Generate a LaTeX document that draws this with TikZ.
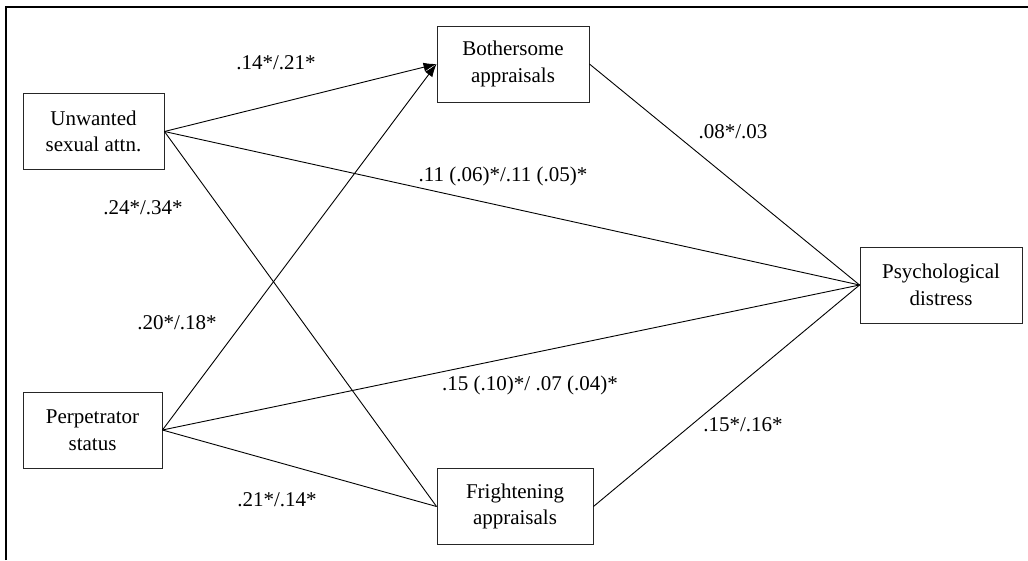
\documentclass[tikz,border=0pt]{standalone}
\usepackage{fontspec}
\setmainfont{Liberation Serif}
\usetikzlibrary{arrows.meta}
\tikzset{
  var/.style   = {draw=black!85, line width=0.9pt, rectangle, minimum height=76pt,
                  inner sep=0pt, align=center, font=\fontsize{21}{26.5}\selectfont},
  link/.style  = {line width=0.9pt},
  effect/.style = {-{Latex[length=13pt,width=9pt]}, line width=0.9pt},
  coef/.style  = {font=\fontsize{21}{26}\selectfont, inner sep=0pt},
}
\begin{document}
\begin{tikzpicture}[x=1pt,y=1pt]
\useasboundingbox (0,0) rectangle (1028,-560);
% frame
\draw[line width=2.2pt] (6,-560) -- (6,-7) -- (1028,-7);
% variables
\node[var,minimum width=141pt] (unw)   at (93.5,-131.5) {Unwanted\\sexual attn.};
\node[var,minimum width=139pt] (perp)  at (92.5,-430)   {Perpetrator\\status};
\node[var,minimum width=152pt] (both)  at (513,-64)     {Bothersome\\appraisals};
\node[var,minimum width=156pt] (fright) at (515,-506.5) {Frightening\\appraisals};
\node[var,minimum width=162pt] (psych) at (941,-285)    {Psychological\\distress};
% paths
\draw[effect] (unw.east) -- (both.west);
\draw[effect] (perp.east) -- (both.west);
\draw[link] (unw.east) -- (fright.west);
\draw[link] (perp.east) -- (fright.west);
\draw[link] (unw.east) -- (psych.west);
\draw[link] (perp.east) -- (psych.west);
\draw[link] (both.east) -- (psych.west);
\draw[link] (fright.east) -- (psych.west);
% coefficients
\node[coef] (c1) at (276,-63)  {.14*/.21*};
\node[coef] (c2) at (143,-208) {.24*/.34*};
\node[coef] (c3) at (503,-176) {.11 (.06)*/.11 (.05)*};
\node[coef] (c4) at (733,-132) {.08*/.03};
\node[coef] (c5) at (177,-323) {.20*/.18*};
\node[coef] (c6) at (530,-385) {.15 (.10)*/ .07 (.04)*};
\node[coef] (c7) at (743,-425) {.15*/.16*};
\node[coef] (c8) at (277,-500) {.21*/.14*};
\end{tikzpicture}
\end{document}
